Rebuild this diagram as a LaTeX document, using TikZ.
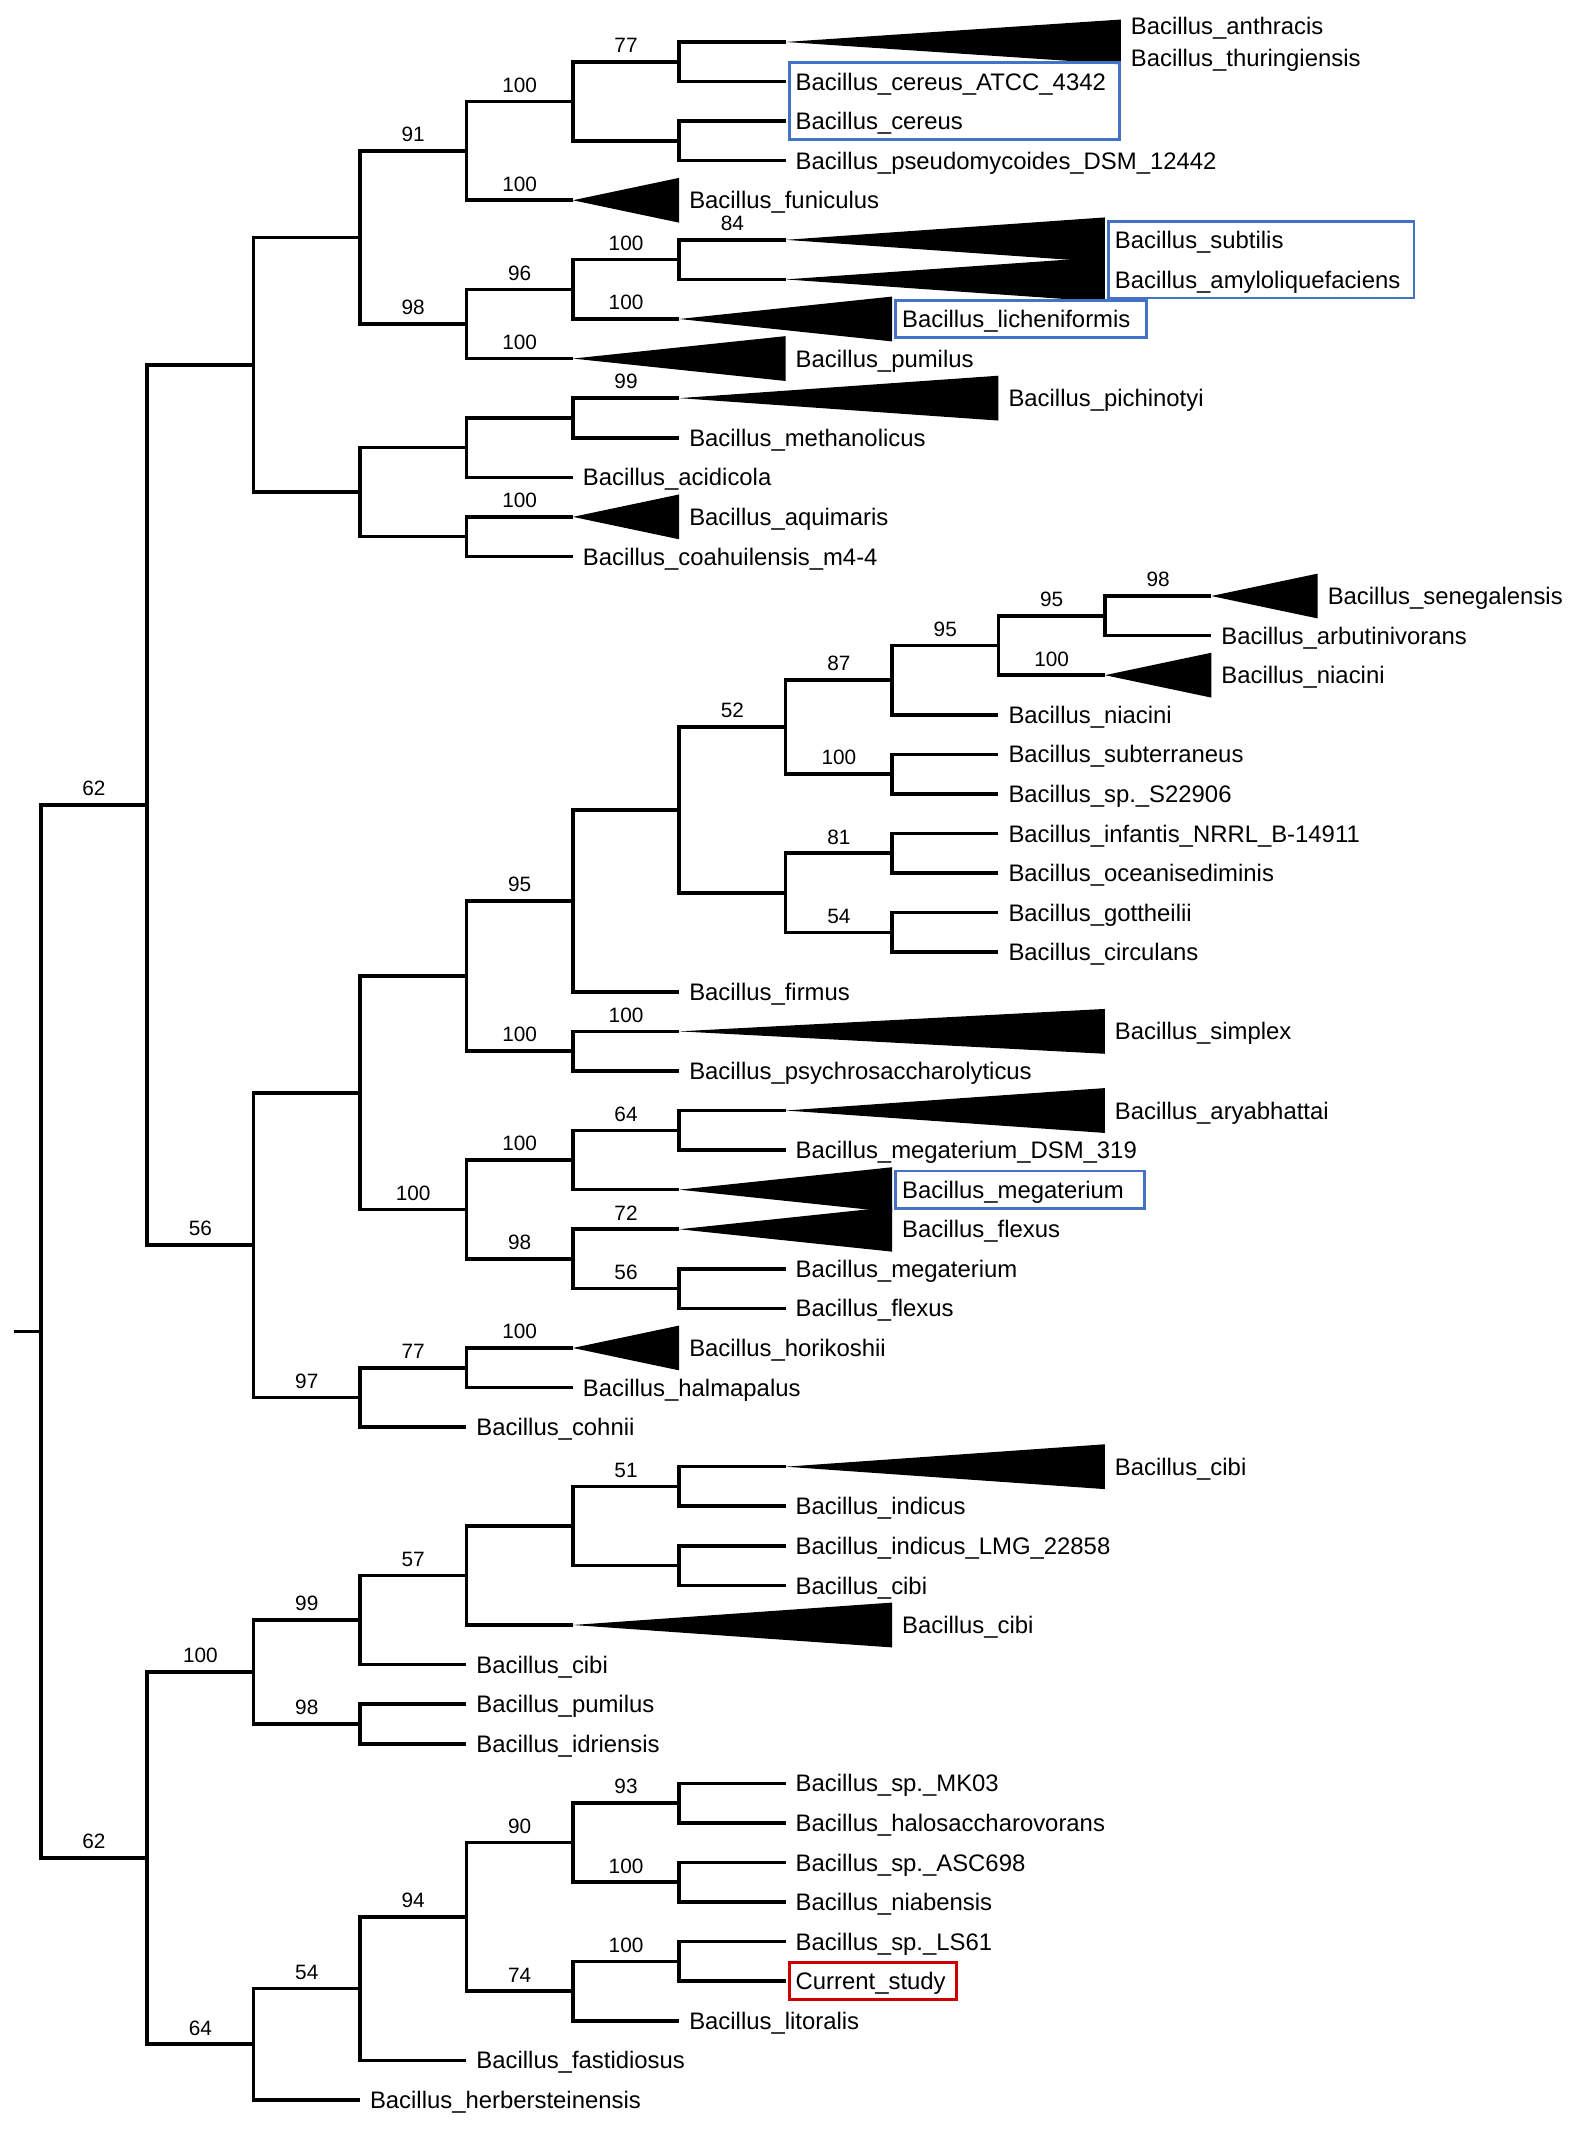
\documentclass[tikz,border=0pt]{standalone}
\usepackage{fontspec}
\setmainfont{Liberation Sans}
\usepackage{tikz}
\usetikzlibrary{fit}
\definecolor{boxblue}{RGB}{68,114,196}
\definecolor{boxred}{RGB}{204,0,0}
\newcommand{\clade}[2]{\fill (#1) -- ([yshift=3.3mm]#2) -- ([yshift=-3.3mm]#2) -- cycle;}
\tikzset{
  branch/.style={line width=1.5pt},
  leaf/.style={anchor=west, xshift=2.5pt, inner sep=1.5pt, text height=7.2pt, text depth=0pt, font=\fontsize{10}{12}\selectfont},
  boot/.style={above=2pt, inner sep=1pt, font=\fontsize{8.7}{10}\selectfont},
  bsA/.style={boot, pos=.25},
  bsB/.style={boot, pos=.75},
  hilite/.style={draw=boxblue, line width=1.2pt, inner xsep=1pt, inner ysep=2.5pt}
}

\begin{document}
\begin{tikzpicture}[x=1.566cm, y=-0.5824cm]
  \useasboundingbox (-0.383,-2.060) rectangle (14.419,51.786);
  \coordinate (anth) at (7,-1);
  \coordinate (anth-e) at (10.15,-1);
  \coordinate (atcc) at (7,0);
  \coordinate (cer) at (7,1);
  \coordinate (pseu) at (7,2);
  \coordinate (funi) at (5,3);
  \coordinate (funi-e) at (6,3);
  \coordinate (subt) at (7,4);
  \coordinate (subt-e) at (10,4);
  \coordinate (amyl) at (7,5);
  \coordinate (amyl-e) at (10,5);
  \coordinate (lich) at (6,6);
  \coordinate (lich-e) at (8,6);
  \coordinate (pumA) at (5,7);
  \coordinate (pumA-e) at (7,7);
  \coordinate (pich) at (6,8);
  \coordinate (pich-e) at (9,8);
  \coordinate (meth) at (6,9);
  \coordinate (acid) at (5,10);
  \coordinate (aqui) at (5,11);
  \coordinate (aqui-e) at (6,11);
  \coordinate (coah) at (5,12);
  \coordinate (nA1) at (6,-0.5);
  \coordinate (nA2) at (6,1.5);
  \coordinate (nA3) at (5,0.5);
  \coordinate (nA4) at (4,1.75);
  \coordinate (nA5) at (6,4.5);
  \coordinate (nA6) at (5,5.25);
  \coordinate (nA7) at (4,6.125);
  \coordinate (nA8) at (3,3.9375);
  \coordinate (nA9) at (5,8.5);
  \coordinate (nA10) at (4,9.25);
  \coordinate (nA11) at (4,11.5);
  \coordinate (nA12) at (3,10.375);
  \coordinate (nA13) at (2,7.15625);

  \coordinate (sene) at (11,13);
  \coordinate (sene-e) at (12,13);
  \coordinate (arbu) at (11,14);
  \coordinate (niaT) at (10,15);
  \coordinate (niaT-e) at (11,15);
  \coordinate (nia) at (9,16);
  \coordinate (subte) at (9,17);
  \coordinate (s229) at (9,18);
  \coordinate (infa) at (9,19);
  \coordinate (ocea) at (9,20);
  \coordinate (gott) at (9,21);
  \coordinate (circ) at (9,22);
  \coordinate (firm) at (6,23);
  \coordinate (simp) at (6,24);
  \coordinate (simp-e) at (10,24);
  \coordinate (psyc) at (6,25);
  \coordinate (arya) at (7,26);
  \coordinate (arya-e) at (10,26);
  \coordinate (dsm) at (7,27);
  \coordinate (megT) at (6,28);
  \coordinate (megT-e) at (8,28);
  \coordinate (flxT) at (6,29);
  \coordinate (flxT-e) at (8,29);
  \coordinate (meg) at (7,30);
  \coordinate (flx) at (7,31);
  \coordinate (hori) at (5,32);
  \coordinate (hori-e) at (6,32);
  \coordinate (halm) at (5,33);
  \coordinate (cohn) at (4,34);
  \coordinate (nB1) at (10,13.5);
  \coordinate (nB2) at (9,14.25);
  \coordinate (nB3) at (8,15.125);
  \coordinate (nB4) at (8,17.5);
  \coordinate (nB5) at (7,16.3125);
  \coordinate (nB6) at (8,19.5);
  \coordinate (nB7) at (8,21.5);
  \coordinate (nB8) at (7,20.5);
  \coordinate (nB9) at (6,18.40625);
  \coordinate (nB10) at (5,20.703125);
  \coordinate (nB11) at (5,24.5);
  \coordinate (nB12) at (4,22.6015625);
  \coordinate (nB13) at (6,26.5);
  \coordinate (nB14) at (5,27.25);
  \coordinate (nB15) at (6,30.5);
  \coordinate (nB16) at (5,29.75);
  \coordinate (nB17) at (4,28.5);
  \coordinate (nB18) at (3,25.55078);
  \coordinate (nB19) at (4,32.5);
  \coordinate (nB20) at (3,33.25);
  \coordinate (nB21) at (2,29.40039);
  \coordinate (nAB) at (1,18.27832);

  \coordinate (cibT1) at (7,35);
  \coordinate (cibT1-e) at (10,35);
  \coordinate (indi) at (7,36);
  \coordinate (lmg) at (7,37);
  \coordinate (cibA) at (7,38);
  \coordinate (cibT2) at (5,39);
  \coordinate (cibT2-e) at (8,39);
  \coordinate (cibB) at (4,40);
  \coordinate (pumB) at (4,41);
  \coordinate (idri) at (4,42);
  \coordinate (mk03) at (7,43);
  \coordinate (halo) at (7,44);
  \coordinate (asc) at (7,45);
  \coordinate (niab) at (7,46);
  \coordinate (ls61) at (7,47);
  \coordinate (curr) at (7,48);
  \coordinate (lito) at (6,49);
  \coordinate (fast) at (4,50);
  \coordinate (herb) at (3,51);
  \coordinate (nC1) at (6,35.5);
  \coordinate (nC2) at (6,37.5);
  \coordinate (nC3) at (5,36.5);
  \coordinate (nC4) at (4,37.75);
  \coordinate (nC5) at (3,38.875);
  \coordinate (nC6) at (3,41.5);
  \coordinate (nC7) at (2,40.1875);
  \coordinate (nD1) at (6,43.5);
  \coordinate (nD2) at (6,45.5);
  \coordinate (nD3) at (5,44.5);
  \coordinate (nD4) at (6,47.5);
  \coordinate (nD5) at (5,48.25);
  \coordinate (nD6) at (4,46.375);
  \coordinate (nD7) at (3,48.1875);
  \coordinate (nD8) at (2,49.59375);
  \coordinate (nCD) at (1,44.89063);
  \coordinate (root) at (0,31.58447);
  \coordinate (stub) at (-0.255,31.58447);

  \draw[branch] (anth) -| (nA1) |- (atcc);
  \draw[branch] (cer) -| (nA2) |- (pseu);
  \draw[branch] (nA1) -| node[bsA]{77} (nA3) |- (nA2);
  \draw[branch] (nA3) -| node[bsA]{100} (nA4) |- node[bsB]{100} (funi);
  \draw[branch] (subt) -| node[bsA]{84} (nA5) |- (amyl);
  \draw[branch] (nA5) -| node[bsA]{100} (nA6) |- node[bsB]{100} (lich);
  \draw[branch] (nA6) -| node[bsA]{96} (nA7) |- node[bsB]{100} (pumA);
  \draw[branch] (nA4) -| node[bsA]{91} (nA8) |- node[bsB]{98} (nA7);
  \draw[branch] (pich) -| node[bsA]{99} (nA9) |- (meth);
  \draw[branch] (nA9) -| (nA10) |- (acid);
  \draw[branch] (aqui) -| node[bsA]{100} (nA11) |- (coah);
  \draw[branch] (nA10) -| (nA12) |- (nA11);
  \draw[branch] (nA8) -| (nA13) |- (nA12);

  \draw[branch] (sene) -| node[bsA]{98} (nB1) |- (arbu);
  \draw[branch] (nB1) -| node[bsA]{95} (nB2) |- node[bsB]{100} (niaT);
  \draw[branch] (nB2) -| node[bsA]{95} (nB3) |- (nia);
  \draw[branch] (subte) -| (nB4) |- (s229);
  \draw[branch] (nB3) -| node[bsA]{87} (nB5) |- node[bsB]{100} (nB4);
  \draw[branch] (infa) -| (nB6) |- (ocea);
  \draw[branch] (gott) -| (nB7) |- (circ);
  \draw[branch] (nB6) -| node[bsA]{81} (nB8) |- node[bsB]{54} (nB7);
  \draw[branch] (nB5) -| node[bsA]{52} (nB9) |- (nB8);
  \draw[branch] (nB9) -| (nB10) |- (firm);
  \draw[branch] (simp) -| node[bsA]{100} (nB11) |- (psyc);
  \draw[branch] (nB10) -| node[bsA]{95} (nB12) |- node[bsB]{100} (nB11);
  \draw[branch] (arya) -| (nB13) |- (dsm);
  \draw[branch] (nB13) -| node[bsA]{64} (nB14) |- (megT);
  \draw[branch] (meg) -| (nB15) |- (flx);
  \draw[branch] (flxT) -| node[bsA]{72} (nB16) |- node[bsB]{56} (nB15);
  \draw[branch] (nB14) -| node[bsA]{100} (nB17) |- node[bsB]{98} (nB16);
  \draw[branch] (nB12) -| (nB18) |- node[bsB]{100} (nB17);
  \draw[branch] (hori) -| node[bsA]{100} (nB19) |- (halm);
  \draw[branch] (nB19) -| node[bsA]{77} (nB20) |- (cohn);
  \draw[branch] (nB18) -| (nB21) |- node[bsB]{97} (nB20);
  \draw[branch] (nA13) -| (nAB) |- node[bsB]{56} (nB21);

  \draw[branch] (cibT1) -| (nC1) |- (indi);
  \draw[branch] (lmg) -| (nC2) |- (cibA);
  \draw[branch] (nC1) -| node[bsA]{51} (nC3) |- (nC2);
  \draw[branch] (nC3) -| (nC4) |- (cibT2);
  \draw[branch] (nC4) -| node[bsA]{57} (nC5) |- (cibB);
  \draw[branch] (pumB) -| (nC6) |- (idri);
  \draw[branch] (nC5) -| node[bsA]{99} (nC7) |- node[bsB]{98} (nC6);
  \draw[branch] (mk03) -| (nD1) |- (halo);
  \draw[branch] (asc) -| (nD2) |- (niab);
  \draw[branch] (nD1) -| node[bsA]{93} (nD3) |- node[bsB]{100} (nD2);
  \draw[branch] (ls61) -| (nD4) |- (curr);
  \draw[branch] (nD4) -| node[bsA]{100} (nD5) |- (lito);
  \draw[branch] (nD3) -| node[bsA]{90} (nD6) |- node[bsB]{74} (nD5);
  \draw[branch] (nD6) -| node[bsA]{94} (nD7) |- (fast);
  \draw[branch] (nD7) -| node[bsA]{54} (nD8) |- (herb);
  \draw[branch] (nC7) -| node[bsA]{100} (nCD) |- node[bsB]{64} (nD8);
  \draw[branch] (nAB) -| node[bsA]{62} (root) |- node[bsB]{62} (nCD);
  \draw[branch] (stub) -- (root);

  \clade{anth}{anth-e}
  \clade{funi}{funi-e}
  \clade{subt}{subt-e}
  \clade{amyl}{amyl-e}
  \clade{lich}{lich-e}
  \clade{pumA}{pumA-e}
  \clade{pich}{pich-e}
  \clade{aqui}{aqui-e}
  \clade{sene}{sene-e}
  \clade{niaT}{niaT-e}
  \clade{simp}{simp-e}
  \clade{arya}{arya-e}
  \clade{megT}{megT-e}
  \clade{flxT}{flxT-e}
  \clade{hori}{hori-e}
  \clade{cibT1}{cibT1-e}
  \clade{cibT2}{cibT2-e}

  \node[leaf] (anth-l) at ([yshift=2.4mm]anth-e) {Bacillus\_anthracis};
  \node[leaf] (thur-l) at ([yshift=-2.4mm]anth-e) {Bacillus\_thuringiensis};
  \node[leaf] (atcc-l) at (atcc) {Bacillus\_cereus\_ATCC\_4342};
  \node[leaf] (cer-l) at (cer) {Bacillus\_cereus};
  \node[leaf] (pseu-l) at (pseu) {Bacillus\_pseudomycoides\_DSM\_12442};
  \node[leaf] (funi-l) at (funi-e) {Bacillus\_funiculus};
  \node[leaf] (subt-l) at (subt-e) {Bacillus\_subtilis};
  \node[leaf] (amyl-l) at (amyl-e) {Bacillus\_amyloliquefaciens};
  \node[leaf] (lich-l) at (lich-e) {Bacillus\_licheniformis};
  \node[leaf] (pumA-l) at (pumA-e) {Bacillus\_pumilus};
  \node[leaf] (pich-l) at (pich-e) {Bacillus\_pichinotyi};
  \node[leaf] (meth-l) at (meth) {Bacillus\_methanolicus};
  \node[leaf] (acid-l) at (acid) {Bacillus\_acidicola};
  \node[leaf] (aqui-l) at (aqui-e) {Bacillus\_aquimaris};
  \node[leaf] (coah-l) at (coah) {Bacillus\_coahuilensis\_m4-4};
  \node[leaf] (sene-l) at (sene-e) {Bacillus\_senegalensis};
  \node[leaf] (arbu-l) at (arbu) {Bacillus\_arbutinivorans};
  \node[leaf] (niaT-l) at (niaT-e) {Bacillus\_niacini};
  \node[leaf] (nia-l) at (nia) {Bacillus\_niacini};
  \node[leaf] (subte-l) at (subte) {Bacillus\_subterraneus};
  \node[leaf] (s229-l) at (s229) {Bacillus\_sp.\_S22906};
  \node[leaf] (infa-l) at (infa) {Bacillus\_infantis\_NRRL\_B-14911};
  \node[leaf] (ocea-l) at (ocea) {Bacillus\_oceanisediminis};
  \node[leaf] (gott-l) at (gott) {Bacillus\_gottheilii};
  \node[leaf] (circ-l) at (circ) {Bacillus\_circulans};
  \node[leaf] (firm-l) at (firm) {Bacillus\_firmus};
  \node[leaf] (simp-l) at (simp-e) {Bacillus\_simplex};
  \node[leaf] (psyc-l) at (psyc) {Bacillus\_psychrosaccharolyticus};
  \node[leaf] (arya-l) at (arya-e) {Bacillus\_aryabhattai};
  \node[leaf] (dsm-l) at (dsm) {Bacillus\_megaterium\_DSM\_319};
  \node[leaf] (megT-l) at (megT-e) {Bacillus\_megaterium};
  \node[leaf] (flxT-l) at (flxT-e) {Bacillus\_flexus};
  \node[leaf] (meg-l) at (meg) {Bacillus\_megaterium};
  \node[leaf] (flx-l) at (flx) {Bacillus\_flexus};
  \node[leaf] (hori-l) at (hori-e) {Bacillus\_horikoshii};
  \node[leaf] (halm-l) at (halm) {Bacillus\_halmapalus};
  \node[leaf] (cohn-l) at (cohn) {Bacillus\_cohnii};
  \node[leaf] (cibT1-l) at (cibT1-e) {Bacillus\_cibi};
  \node[leaf] (indi-l) at (indi) {Bacillus\_indicus};
  \node[leaf] (lmg-l) at (lmg) {Bacillus\_indicus\_LMG\_22858};
  \node[leaf] (cibA-l) at (cibA) {Bacillus\_cibi};
  \node[leaf] (cibT2-l) at (cibT2-e) {Bacillus\_cibi};
  \node[leaf] (cibB-l) at (cibB) {Bacillus\_cibi};
  \node[leaf] (pumB-l) at (pumB) {Bacillus\_pumilus};
  \node[leaf] (idri-l) at (idri) {Bacillus\_idriensis};
  \node[leaf] (mk03-l) at (mk03) {Bacillus\_sp.\_MK03};
  \node[leaf] (halo-l) at (halo) {Bacillus\_halosaccharovorans};
  \node[leaf] (asc-l) at (asc) {Bacillus\_sp.\_ASC698};
  \node[leaf] (niab-l) at (niab) {Bacillus\_niabensis};
  \node[leaf] (ls61-l) at (ls61) {Bacillus\_sp.\_LS61};
  \node[leaf] (curr-l) at (curr) {Current\_study};
  \node[leaf] (lito-l) at (lito) {Bacillus\_litoralis};
  \node[leaf] (fast-l) at (fast) {Bacillus\_fastidiosus};
  \node[leaf] (herb-l) at (herb) {Bacillus\_herbersteinensis};

  \coordinate (atcc-r) at ([xshift=3pt]atcc-l.east);
  \coordinate (amyl-r) at ([xshift=3pt]amyl-l.east);
  \coordinate (lich-r) at ([xshift=4pt]lich-l.east);
  \coordinate (megT-r) at ([xshift=6pt]megT-l.east);
  \coordinate (curr-r) at ([xshift=2pt]curr-l.east);
  \node[hilite, fit=(atcc-l)(cer-l)(atcc-r)] (box-cer) {};
  \node[hilite, fit=(subt-l)(amyl-l)(amyl-r)] (box-subt) {};
  \node[hilite, fit=(lich-l)(lich-r)] (box-lich) {};
  \node[hilite, fit=(megT-l)(megT-r)] (box-meg) {};
  \node[hilite, draw=boxred, fit=(curr-l)(curr-r)] (box-curr) {};
\end{tikzpicture}
\end{document}
